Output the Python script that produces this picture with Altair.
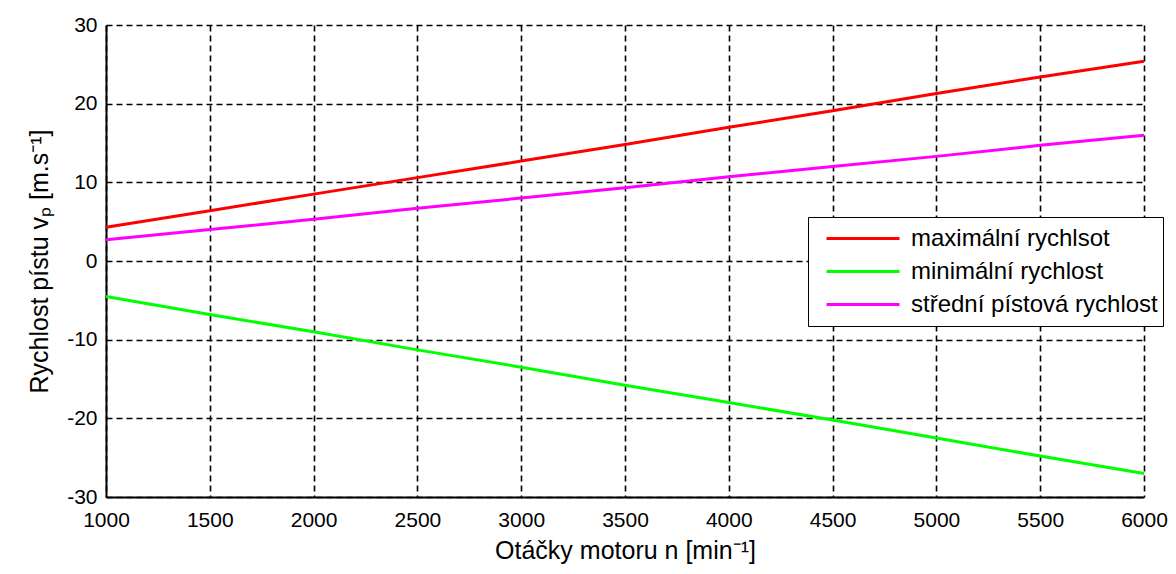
import altair as alt
import pandas as pd

# Engine speed [min^-1]
rpm = [1000, 1500, 2000, 2500, 3000, 3500, 4000, 4500, 5000, 5500, 6000]
# Piston speeds [m/s]
v_max = [4.3, 6.4, 8.5, 10.6, 12.7, 14.8, 17.0, 19.1, 21.3, 23.4, 25.4]
v_min = [-4.5, -6.8, -9.0, -11.3, -13.5, -15.8, -18.0, -20.2, -22.5, -24.8, -27.0]
v_mean = [2.7, 4.0, 5.3, 6.7, 8.0, 9.3, 10.7, 12.0, 13.3, 14.7, 16.0]

series_names = ["maximální rychlsot", "minimální rychlost", "střední pístová rychlost"]
series_colors = ["#ff0000", "#00ff00", "#ff00ff"]
x_ticks = [1000, 1500, 2000, 2500, 3000, 3500, 4000, 4500, 5000, 5500, 6000]
y_ticks = [-30, -20, -10, 0, 10, 20, 30]

rows = []
for k, (name, vals) in enumerate(zip(series_names, [v_max, v_min, v_mean])):
    for n, v in zip(rpm, vals):
        rows.append({"n": n, "v": v, "series": name, "k": k})
df = pd.DataFrame(rows)

FONT = "Liberation Sans"

chart = (
    alt.Chart(df)
    .mark_line(strokeWidth=3)
    .encode(
        x=alt.X(
            "n:Q",
            scale=alt.Scale(domain=[1000, 6000], nice=False, zero=False),
            axis=alt.Axis(
                values=x_ticks,
                title="Otáčky motoru n [min⁻¹]",
                labelFlush=False,
                labelPadding=12,
                titlePadding=8,
                labelExpr="'' + datum.value",
            ),
        ),
        y=alt.Y(
            "v:Q",
            scale=alt.Scale(domain=[-30, 30], nice=False, zero=False),
            axis=alt.Axis(
                values=y_ticks,
                title="Rychlost pístu vₚ [m.s⁻¹]",
                labelPadding=9,
                titlePadding=14,
                labelFlush=False,
                labelExpr="'' + datum.value",
            ),
        ),
        color=alt.Color(
            "series:N",
            scale=alt.Scale(domain=series_names, range=series_colors),
            legend=alt.Legend(
                title=None,
                orient="none",
                legendX=702,
                legendY=192,
                symbolType="stroke",
                symbolSize=5329,
                symbolStrokeWidth=3,
                clipHeight=33,
                labelFontSize=24,
                labelFont=FONT,
                labelColor="black",
                labelLimit=400,
                strokeColor="black",
                fillColor="white",
                padding=5,
                symbolOffset=12,
                labelOffset=10,
                rowPadding=0,
            ),
        ),
        order="k:O",
    )
    .properties(
        width=1038,
        height=472,
        padding={"left": 98, "top": 17, "right": 24, "bottom": 74},
        autosize=alt.AutoSizeParams(type="none"),
    )
    .configure_view(stroke=None)
    .configure_axis(
        domainColor="black",
        domainWidth=2,
        grid=True,
        gridColor="black",
        gridDash=[6, 4],
        gridWidth=1.6,
        gridOpacity=1,
        ticks=False,
        labelFont=FONT,
        labelFontSize=21,
        labelColor="black",
        titleFont=FONT,
        titleFontSize=25,
        titleFontWeight="normal",
        titleColor="black",
    )
)

chart.save("out.html", embed_options={"renderer": "svg", "actions": False})
